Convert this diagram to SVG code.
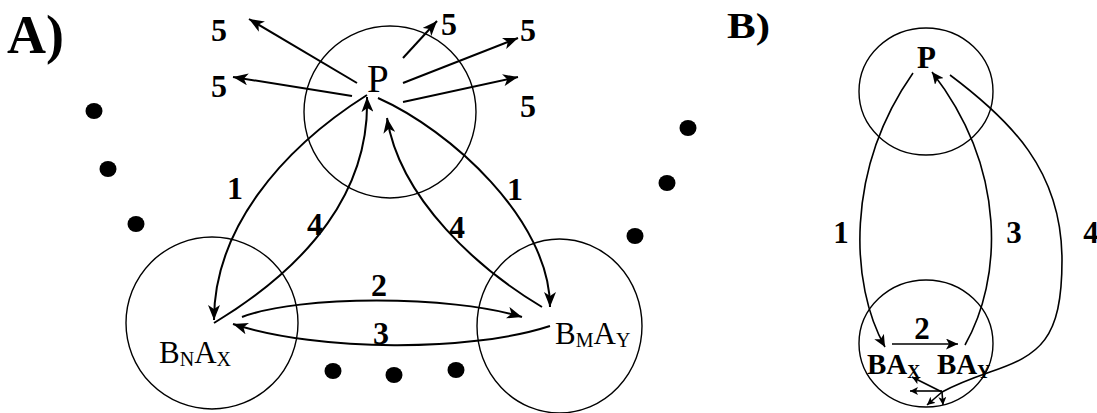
<svg xmlns="http://www.w3.org/2000/svg" width="1097" height="413" viewBox="0 0 1097 413">
<style>
.bg{fill:#fff}
.c{fill:none;stroke:#000;stroke-width:1.4}
.e{fill:none;stroke:#000;stroke-width:2}
.eb{fill:none;stroke:#000;stroke-width:1.6}
.dot{fill:#000}
.t{font-family:"Liberation Serif","Times New Roman",serif;fill:#000}
.n{font-family:"Liberation Serif","Times New Roman",serif;font-weight:bold;font-size:32px;fill:#000;text-anchor:middle}
.nb{font-family:"Liberation Serif","Times New Roman",serif;font-weight:bold;font-size:31px;fill:#000;text-anchor:middle}
</style>
<defs>
<marker id="ah" markerWidth="16" markerHeight="12" refX="15" refY="6" orient="auto" markerUnits="userSpaceOnUse"><path d="M0,0 L15,6 L0,12 L4,6 z" fill="#000"/></marker>
<marker id="ahs" markerWidth="13" markerHeight="11" refX="12" refY="5.5" orient="auto" markerUnits="userSpaceOnUse"><path d="M0,0 L12,5.5 L0,11 L3,5.5 z" fill="#000"/></marker>
<marker id="aht" markerWidth="9" markerHeight="8" refX="8" refY="4" orient="auto" markerUnits="userSpaceOnUse"><path d="M0,0 L8,4 L0,8 L2,4 z" fill="#000"/></marker>
</defs>
<rect class="bg" x="0" y="0" width="1097" height="413"/>

<text class="t" x="7" y="53" font-size="54" font-weight="bold">A)</text>
<text class="t" x="727" y="38" font-size="36" font-weight="bold" textLength="43" lengthAdjust="spacingAndGlyphs">B)</text>

<g id="dots">
<ellipse class="dot" cx="94" cy="111" rx="8.5" ry="8"/>
<ellipse class="dot" cx="108" cy="169" rx="8.5" ry="8"/>
<ellipse class="dot" cx="136" cy="224" rx="8.5" ry="8"/>
<ellipse class="dot" cx="333" cy="371" rx="8.5" ry="8"/>
<ellipse class="dot" cx="394" cy="375" rx="8.5" ry="8"/>
<ellipse class="dot" cx="456" cy="370" rx="8.5" ry="8"/>
<ellipse class="dot" cx="635" cy="236" rx="8.5" ry="8"/>
<ellipse class="dot" cx="667" cy="183" rx="8.5" ry="8"/>
<ellipse class="dot" cx="688" cy="128" rx="8.5" ry="8"/>
</g>

<g id="nodeP">
<ellipse class="c" cx="390" cy="112" rx="86" ry="86"/>
<text class="t" x="367" y="92" font-size="39">P</text>
</g>
<g id="nodeBNAX">
<ellipse class="c" cx="212" cy="323" rx="86" ry="86"/>
<text class="t" x="159" y="363" font-size="31">B<tspan font-size="20" dy="2.5">N</tspan><tspan dy="-2.5">A</tspan><tspan font-size="20" dy="2.5">X</tspan></text>
</g>
<g id="nodeBMAY">
<ellipse class="c" cx="559.5" cy="326" rx="82.5" ry="87"/>
<text class="t" x="555" y="344" font-size="31">B<tspan font-size="20" dy="2.5">M</tspan><tspan dy="-2.5">A</tspan><tspan font-size="20" dy="2.5">Y</tspan></text>
</g>

<g id="nodePB">
<ellipse class="c" cx="926" cy="91.5" rx="67" ry="63.5"/>
<text class="t" x="917" y="68" font-size="31" font-weight="bold">P</text>
</g>
<g id="nodeBAB">
<ellipse class="c" cx="926" cy="343.5" rx="67" ry="63.5"/>
<text class="t" x="867" y="374" font-size="29" font-weight="bold">BA<tspan font-size="18" dy="4">X</tspan></text>
<text class="t" x="937" y="374" font-size="29" font-weight="bold">BA<tspan font-size="18" dy="4">Y</tspan></text>
</g>

<g id="connectors">
<line class="e" x1="357" y1="83" x2="249" y2="19" marker-end="url(#ah)"/>
<line class="e" x1="352" y1="96" x2="233" y2="77" marker-end="url(#ah)"/>
<line class="e" x1="403" y1="58" x2="437" y2="21" marker-end="url(#ah)"/>
<line class="e" x1="403" y1="83" x2="518" y2="38" marker-end="url(#ah)"/>
<line class="e" x1="403" y1="102" x2="518" y2="77" marker-end="url(#ah)"/>
<path class="e" d="M367,95 C280,150 214,230 214,320" marker-end="url(#ah)"/>
<path class="e" d="M214,323 C310,265 370,190 367,97" marker-end="url(#ah)"/>
<path class="e" d="M378,98 C450,130 550,220 550,307" marker-end="url(#ah)"/>
<path class="e" d="M542,307 C480,270 400,200 387,118" marker-end="url(#ah)"/>
<path class="e" d="M242,317 C300,295 450,295 522,317" marker-end="url(#ah)"/>
<path class="e" d="M550,326 C470,352 320,352 233,324" marker-end="url(#ah)"/>

<path class="eb" d="M913,73 C845,170 850,285 885,347" marker-end="url(#ahs)"/>
<path class="eb" d="M965,345 C1002,280 1008,170 932,72" marker-end="url(#ahs)"/>
<path class="eb" d="M950,75 C1010,120 1062,170 1062,260 C1062,340 1040,355 990,372 C970,379 955,385 942,392"/>
<line class="eb" x1="892" y1="344" x2="958" y2="344" marker-end="url(#ahs)"/>
<line class="eb" x1="942" y1="392" x2="912" y2="377" marker-end="url(#aht)"/>
<line class="eb" x1="942" y1="391" x2="910" y2="391" marker-end="url(#aht)"/>
<line class="eb" x1="942" y1="392" x2="943" y2="405" marker-end="url(#aht)"/>
<line class="eb" x1="942" y1="392" x2="927" y2="405" marker-end="url(#aht)"/>
</g>

<g id="labels">
<text class="n" x="219" y="41">5</text>
<text class="n" x="219" y="97">5</text>
<text class="n" x="449" y="35">5</text>
<text class="n" x="528" y="41">5</text>
<text class="n" x="528" y="117">5</text>
<text class="n" x="235" y="199">1</text>
<text class="n" x="315" y="235">4</text>
<text class="n" x="515" y="200">1</text>
<text class="n" x="457" y="238">4</text>
<text class="n" x="379" y="296">2</text>
<text class="n" x="381" y="344">3</text>
<text class="nb" x="841" y="243">1</text>
<text class="nb" x="1014" y="243">3</text>
<text class="nb" x="1091" y="243">4</text>
<text class="nb" x="922" y="339">2</text>
</g>
</svg>
